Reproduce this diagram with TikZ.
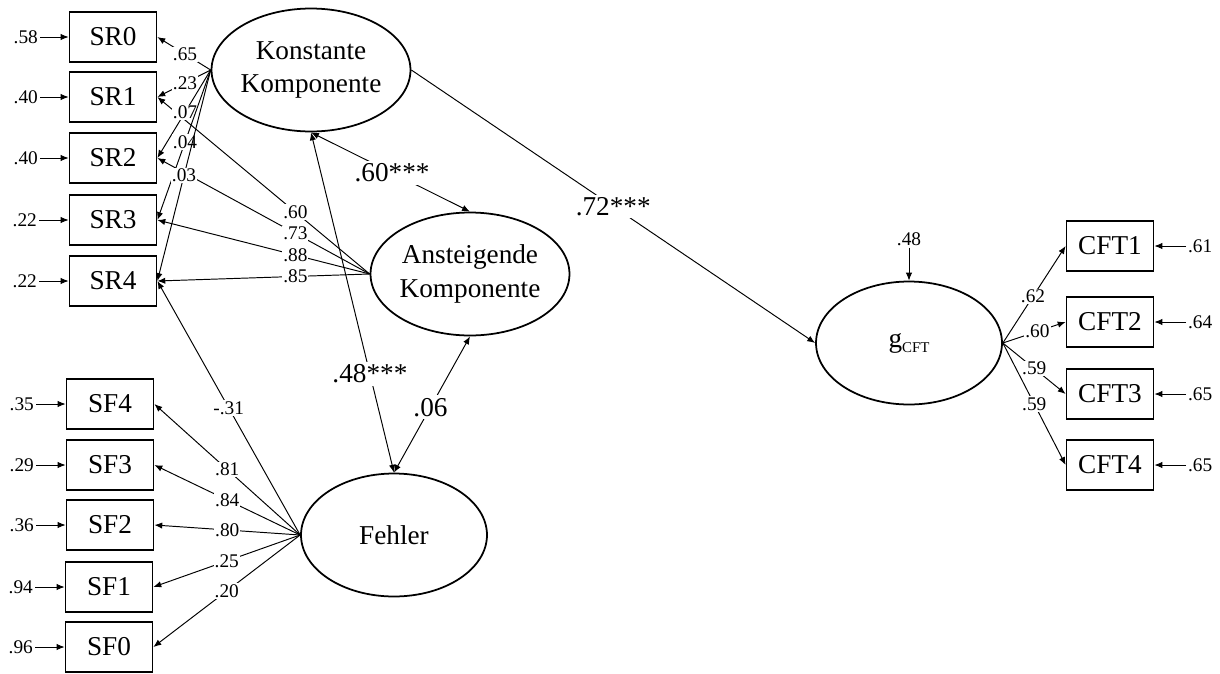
\documentclass[tikz,border=0pt]{standalone}
\usepackage{fontspec}
\setmainfont{Liberation Serif}
\usetikzlibrary{shapes.geometric,arrows.meta}
\newcommand{\gsub}{g\raisebox{-3pt}{\fontsize{8.5}{9}\selectfont CFT}}

\begin{document}
\begin{tikzpicture}[x=0.02cm,y=-0.02cm,
		obs/.style={draw,line width=1pt,minimum width=1.74cm,minimum height=1.0cm,inner sep=0pt,font=\fontsize{15.5}{17}\selectfont},
		lat/.style={draw,ellipse,line width=1pt,minimum width=3.72cm,minimum height=2.46cm,inner sep=0pt,align=center,font=\fontsize{15.5}{19}\selectfont},
		err/.style={inner sep=1pt,font=\fontsize{11}{12}\selectfont},
		lbl/.style={fill=white,inner sep=0.6pt,font=\fontsize{11}{12}\selectfont},
		big/.style={fill=white,inner sep=1.5pt,font=\fontsize{15.5}{17}\selectfont},
		ar/.style={line width=0.55pt,-{Latex[length=4.5pt,width=3.6pt]}},
		dar/.style={line width=0.55pt,{Latex[length=4.5pt,width=3.6pt]}-{Latex[length=4.5pt,width=3.6pt]}}]
				\useasboundingbox (0,0) rectangle (1220,673);

				\node[obs] (sr0) at (113,37) {SR0};
				\node[obs] (sr1) at (113,97) {SR1};
				\node[obs] (sr2) at (113,158) {SR2};
				\node[obs] (sr3) at (113,220) {SR3};
				\node[obs] (sr4) at (113,281) {SR4};
				\node[obs] (sf4) at (110,404) {SF4};
				\node[obs] (sf3) at (110,465) {SF3};
				\node[obs] (sf2) at (110,525) {SF2};
				\node[obs] (sf1) at (109,587) {SF1};
				\node[obs] (sf0) at (109,647) {SF0};
				\node[obs] (cft1) at (1110,246) {CFT1};
				\node[obs] (cft2) at (1110,322) {CFT2};
				\node[obs] (cft3) at (1110,394) {CFT3};
				\node[obs] (cft4) at (1110,465) {CFT4};

				\node[lat] (k) at (311,70) {Konstante\\Komponente};
				\node[lat] (a) at (470,274) {Ansteigende\\Komponente};
				\node[lat] (f) at (394,535) {Fehler};
				\node[lat,font=\fontsize{15.5}{17}\selectfont] (g) at (909,343) {\gsub};

				\node[err,anchor=east] (esr0) at (40,37) {.58};
				\node[err,anchor=east] (esr1) at (40,97) {.40};
				\node[err,anchor=east] (esr2) at (40,158) {.40};
				\node[err,anchor=east] (esr3) at (39,220) {.22};
				\node[err,anchor=east] (esr4) at (39,281) {.22};
				\node[err,anchor=east] (esf4) at (36,404) {.35};
				\node[err,anchor=east] (esf3) at (36,465) {.29};
				\node[err,anchor=east] (esf2) at (36,525) {.36};
				\node[err,anchor=east] (esf1) at (35,587) {.94};
				\node[err,anchor=east] (esf0) at (35,647) {.96};
				\node[err,anchor=west] (ecft1) at (1186,246) {.61};
				\node[err,anchor=west] (ecft2) at (1186,322) {.64};
				\node[err,anchor=west] (ecft3) at (1186,394) {.65};
				\node[err,anchor=west] (ecft4) at (1186,465) {.65};
				\node[err] (eg) at (909,239) {.48};

				\draw[ar] (esr0) to (sr0);
				\draw[ar] (esr1) to (sr1);
				\draw[ar] (esr2) to (sr2);
				\draw[ar] (esr3) to (sr3);
				\draw[ar] (esr4) to (sr4);
				\draw[ar] (esf4) to (sf4);
				\draw[ar] (esf3) to (sf3);
				\draw[ar] (esf2) to (sf2);
				\draw[ar] (esf1) to (sf1);
				\draw[ar] (esf0) to (sf0);
				\draw[ar] (ecft1) to (cft1);
				\draw[ar] (ecft2) to (cft2);
				\draw[ar] (ecft3) to (cft3);
				\draw[ar] (ecft4) to (cft4);
				\draw[ar] (eg) to (g.north);

				\draw[ar] (a.west) to node[lbl,pos=.35]{.60}(sr1.east);
				\draw[ar] (a.west) to node[lbl,pos=.35]{.73}(sr2.east);
				\draw[ar] (a.west) to node[lbl,pos=.35]{.88}(sr3.east);
				\draw[ar] (a.west) to node[lbl,pos=.35]{.85}(sr4.east);

				\draw[ar] (k.west) to node[lbl,pos=.48]{.65}(sr0.east);
				\draw[ar] (k.west) to node[lbl,pos=.48]{.23}(sr1.east);
				\draw[ar] (k.west) to node[lbl,pos=.48]{.07}(sr2.east);
				\draw[ar] (k.west) to node[lbl,pos=.48]{.04}(sr3.east);
				\draw[ar] (k.west) to node[lbl,pos=.5]{.03}(sr4.east);

				\draw[ar] (f.west) to node[lbl]{-.31}(sr4.east);
				\draw[ar] (f.west) to node[lbl]{.81}(sf4.east);
				\draw[ar] (f.west) to node[lbl]{.84}(sf3.east);
				\draw[ar] (f.west) to node[lbl]{.80}(sf2.east);
				\draw[ar] (f.west) to node[lbl]{.25}(sf1.east);
				\draw[ar] (f.west) to node[lbl]{.20}(sf0.east);

				\draw[dar] (k.south) to node[big,pos=.51]{.60***}(a.north);
				\draw[dar] (k.south) to node[big,pos=.71]{.48***}(f.north);
				\draw[dar] (a.south) to node[big,pos=.52]{.06}(f.north);
				\draw[ar] (k.east) to node[big]{.72***}(g.west);

				\draw[ar] (g.east) to node[lbl,pos=.48]{.62}(cft1.west);
				\draw[ar] (g.east) to node[lbl,pos=.55]{.60}(cft2.west);
				\draw[ar] (g.east) to node[lbl,pos=.5]{.59}(cft3.west);
				\draw[ar] (g.east) to node[lbl,pos=.5]{.59}(cft4.west);

			\end{tikzpicture}
\end{document}
